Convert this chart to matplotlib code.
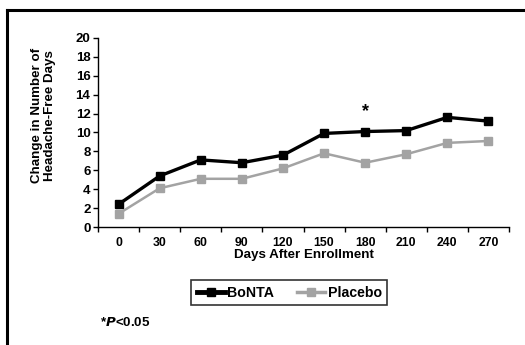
import matplotlib.pyplot as plt
from matplotlib.lines import Line2D

plt.rcParams['font.family'] = ['Liberation Sans', 'DejaVu Sans']
plt.rcParams['font.weight'] = 'bold'

days = ['0', '30', '60', '90', '120', '150', '180', '210', '240', '270']
bonta = [2.4, 5.4, 7.1, 6.8, 7.6, 9.9, 10.1, 10.2, 11.6, 11.2]
placebo = [1.4, 4.1, 5.1, 5.1, 6.2, 7.8, 6.8, 7.7, 8.9, 9.1]
signif_idx = 6  # day 180

fig = plt.figure(figsize=(5.25, 3.45), dpi=100)
ax = fig.add_axes([0.1867, 0.342, 0.7828, 0.548])

x = list(range(len(days)))
ax.plot(x, bonta, color='black', lw=2.4, marker='s', ms=6, label='BoNTA', zorder=3)
ax.plot(x, placebo, color='#a3a3a3', lw=1.8, marker='s', ms=6, label='Placebo', zorder=2)
ax.text(signif_idx, 12.2, '*', ha='center', va='center', fontsize=13)

ax.set_xlim(-0.5, len(days) - 0.5)
ax.set_ylim(0, 20)
ax.set_yticks(range(0, 21, 2))
ax.set_xticks([i - 0.5 for i in range(len(days) + 1)])
ax.set_xticklabels([])
ax.set_xticks(x, minor=True)
ax.set_xticklabels(days, minor=True)
ax.tick_params(axis='x', which='minor', length=0, pad=7, labelsize=8.8)
ax.tick_params(axis='x', which='major', length=3.5, width=1, direction='out')
ax.tick_params(axis='y', length=3.5, width=1, direction='out', labelsize=9.5, pad=2)
for s in ['top', 'right']:
    ax.spines[s].set_visible(False)
for s in ['left', 'bottom']:
    ax.spines[s].set_linewidth(1)

ax.set_xlabel('Days After Enrollment', fontsize=9.6, fontweight='bold', labelpad=0)
fig.text(43.5 / 525, 1 - 115.5 / 345, 'Change in Number of\nHeadache-Free Days',
         rotation=90, ha='center', va='center', fontsize=9.6, fontweight='bold',
         linespacing=1.22)

leg = fig.legend(loc='center', bbox_to_anchor=(0.551, 0.152), ncol=2,
                 fontsize=10.2, frameon=True, fancybox=False, handlelength=2.0,
                 handletextpad=0.15, columnspacing=1.6, borderpad=0.4)
leg.get_frame().set_edgecolor('black')
leg.get_frame().set_linewidth(1.2)
for h, w in zip(leg.get_lines(), [3.5, 2.5]):
    h.set_linewidth(w)
    h.set_markersize(5.5)

fig.text(100 / 525, 1 - 323 / 345, '*$\\boldsymbol{P}$<0.05', fontsize=9.6,
         ha='left', va='center', fontweight='bold')

# outer frame (top and left only)
fig.add_artist(Line2D([0.0133, 1.0], [0.9696, 0.9696], color='black', lw=2.2,
                      transform=fig.transFigure))
fig.add_artist(Line2D([0.0133, 0.0133], [0.0, 0.9696], color='black', lw=2.2,
                      transform=fig.transFigure))

fig.savefig('out.png', dpi=100)
